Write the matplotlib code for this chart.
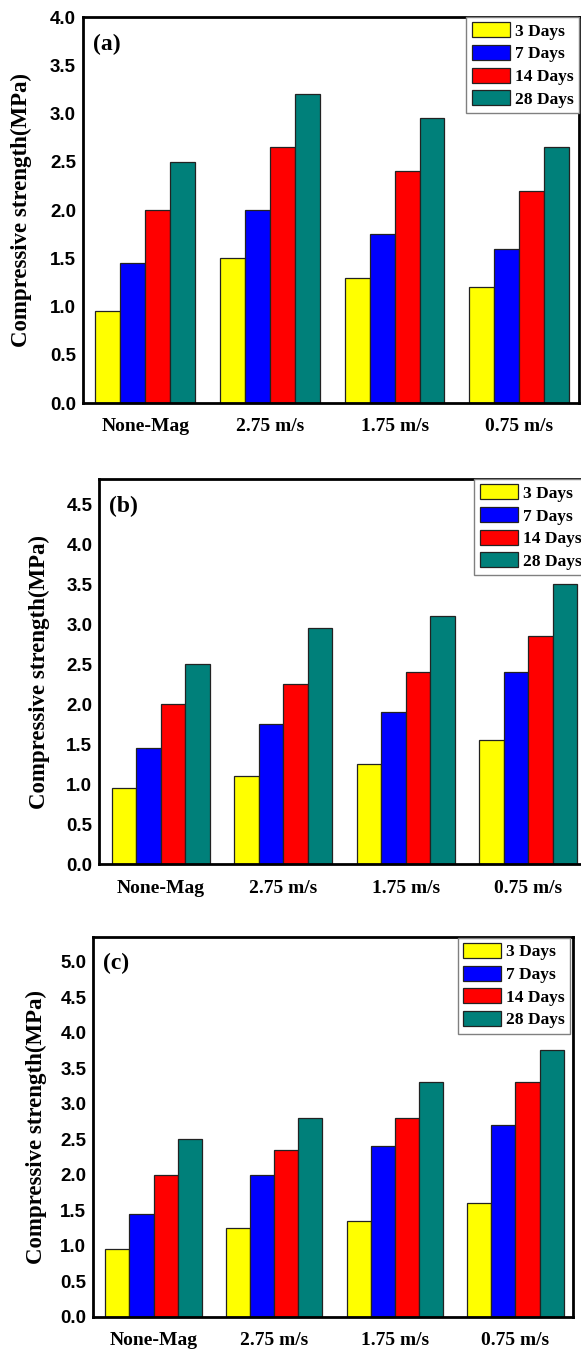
import numpy as np
import matplotlib
matplotlib.use("Agg")
import matplotlib.pyplot as plt

# data
groups = ["None-Mag", "2.75 m/s", "1.75 m/s", "0.75 m/s"]
ages = ["3 Days", "7 Days", "14 Days", "28 Days"]
colors = ["#ffff00", "#0000ff", "#ff0000", "#00807a"]

vals_a = [[0.95, 1.50, 1.30, 1.20],
          [1.45, 2.00, 1.75, 1.60],
          [2.00, 2.65, 2.40, 2.20],
          [2.50, 3.20, 2.95, 2.65]]
vals_b = [[0.95, 1.10, 1.25, 1.55],
          [1.45, 1.75, 1.90, 2.40],
          [2.00, 2.25, 2.40, 2.85],
          [2.50, 2.95, 3.10, 3.50]]
vals_c = [[0.95, 1.25, 1.35, 1.60],
          [1.45, 2.00, 2.40, 2.70],
          [2.00, 2.35, 2.80, 3.30],
          [2.50, 2.80, 3.30, 3.75]]

serif = "Liberation Serif"
sans = "Liberation Sans"

fig = plt.figure(figsize=(5.81, 13.53), dpi=100)

panels = [
    # rect, data, ylim, yticks, tag, label x, legend anchor
    ([0.1429, 0.7021, 0.8537, 0.2853], vals_a, 4.0, np.arange(0, 4.01, 0.5), "(a)", -0.103, (1.0, 1.0)),
    ([0.1709, 0.3612, 0.8394, 0.2846], vals_b, 4.81, np.arange(0, 4.51, 0.5), "(b)", -0.102, (1.0, 1.0)),
    ([0.1606, 0.0268, 0.8262, 0.2809], vals_c, 5.35, np.arange(0, 5.01, 0.5), "(c)", -0.097, (0.994, 0.997)),
]

x = np.arange(len(groups))
w = 0.2

for rect, vals, ytop, yt, tag, lx, anchor in panels:
    ax = fig.add_axes(rect)
    for i in range(4):
        ax.bar(x + (i - 1.5) * w, vals[i], w, color=colors[i],
               edgecolor="#222222", linewidth=0.9, label=ages[i], zorder=2)
    ax.set_xlim(-0.5, 3.48)
    ax.set_ylim(0, ytop)
    ax.set_yticks(yt)
    ax.set_yticklabels(["%.1f" % v for v in yt], fontfamily=sans,
                       fontweight="bold", fontsize=13.5)
    ax.set_xticks(x)
    ax.set_xticklabels(groups, fontfamily=serif, fontweight="bold", fontsize=14)
    ax.tick_params(axis="y", length=0, pad=5)
    ax.tick_params(axis="x", length=0, pad=11)
    for s in ax.spines.values():
        s.set_linewidth(2.0)
        s.set_color("black")
    ax.set_ylabel("Compressive strength(MPa)", fontfamily=serif,
                  fontweight="bold", fontsize=16.5)
    ax.yaxis.set_label_coords(lx, 0.5)
    ax.text(0.02, 0.93, tag, transform=ax.transAxes, fontfamily=serif,
            fontweight="bold", fontsize=17, va="center", ha="left")
    leg = ax.legend(loc="upper right", bbox_to_anchor=anchor, borderaxespad=0,
                    prop={"family": serif, "weight": "bold", "size": 12.5},
                    handlelength=2.2, handleheight=0.95, handletextpad=0.3,
                    labelspacing=0.3, borderpad=0.3, fancybox=False,
                    framealpha=1)
    leg.get_frame().set_edgecolor("#808080")
    leg.get_frame().set_linewidth(1.0)

fig.savefig("out.png", dpi=100)
